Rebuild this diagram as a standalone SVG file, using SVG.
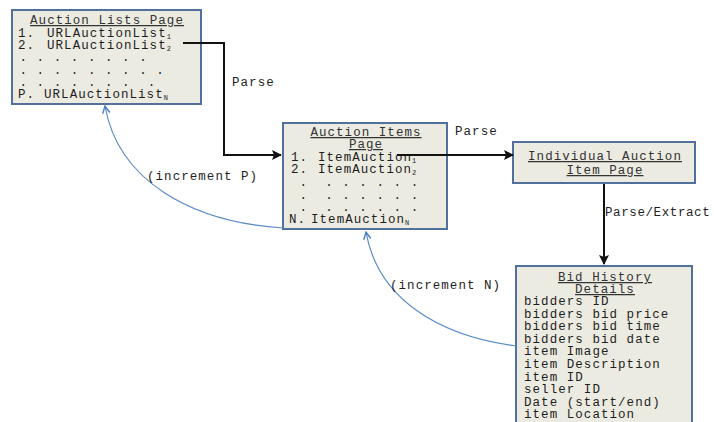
<svg xmlns="http://www.w3.org/2000/svg" width="714" height="422" viewBox="0 0 714 422">
<defs>
<marker id="ah" viewBox="0 0 10 10" refX="9" refY="5" markerWidth="5" markerHeight="5" orient="auto" markerUnits="strokeWidth"><path d="M0,0 L10,5 L0,10 L2,5 z" fill="#111"/></marker>
<marker id="ab" viewBox="0 0 10 10" refX="9" refY="5" markerWidth="9" markerHeight="9" orient="auto" markerUnits="userSpaceOnUse"><path d="M1,1 L9,5 L1,9" fill="none" stroke="#4f83c2" stroke-width="1.6"/></marker>
<style>
.box{fill:#ecebe2;stroke:#51719c;stroke-width:2}
.t{font-family:"Liberation Mono","Courier New",monospace;font-size:12.5px;letter-spacing:1.05px;fill:#1e1e1e}
.ttl{text-decoration:underline;fill:#333}
.sub{font-size:7px;letter-spacing:0}
.blk{fill:none;stroke:#111;stroke-width:2}
.blu{fill:none;stroke:#5b8cc6;stroke-width:1.2}
</style>
</defs>
<rect width="714" height="422" fill="#ffffff"/>

<g id="auction-lists-page">
<rect class="box" x="12" y="10" width="189" height="94"/>
<text class="t ttl" x="107" y="24" text-anchor="middle">Auction Lists Page</text>
<text class="t" x="18" y="37">1.<tspan x="47">URLAuctionList</tspan><tspan class="sub" dy="2">1</tspan></text>
<text class="t" x="18" y="49">2.<tspan x="47">URLAuctionList</tspan><tspan class="sub" dy="2">2</tspan></text>
<text class="t" x="19.5" y="61" xml:space="preserve">. . . . . . . .</text>
<text class="t" x="19.5" y="74" xml:space="preserve">. . . . . . . . .</text>
<text class="t" x="19.5" y="86" xml:space="preserve">. . . . . . .  .</text>
<text class="t" x="18" y="98">P.<tspan x="44">URLAuctionList</tspan><tspan class="sub" dy="2">N</tspan></text>
</g>

<g id="auction-items-page">
<rect class="box" x="283" y="123" width="164" height="106"/>
<text class="t ttl" x="366" y="136" text-anchor="middle">Auction Items</text>
<text class="t ttl" x="366" y="148" text-anchor="middle">Page</text>
<text class="t" x="291" y="161">1.<tspan x="318">ItemAuction</tspan><tspan class="sub" dy="2">1</tspan></text>
<text class="t" x="291" y="173">2.<tspan x="318">ItemAuction</tspan><tspan class="sub" dy="2">2</tspan></text>
<text class="t" x="299.5" y="186" xml:space="preserve">.  . . . . . .</text>
<text class="t" x="299.5" y="199" xml:space="preserve">.  . . . . . .</text>
<text class="t" x="299.5" y="211" xml:space="preserve">.  . . . . . .</text>
<text class="t" x="289" y="223">N.<tspan x="311">ItemAuction</tspan><tspan class="sub" dy="2">N</tspan></text>
</g>

<g id="individual-auction-item-page">
<rect class="box" x="513" y="142" width="182" height="41"/>
<text class="t ttl" x="605" y="160" text-anchor="middle">Individual Auction</text>
<text class="t ttl" x="605" y="174" text-anchor="middle">Item Page</text>
</g>

<g id="bid-history-details">
<rect class="box" x="516" y="266" width="176" height="170"/>
<text class="t ttl" x="605" y="281" text-anchor="middle">Bid History</text>
<text class="t ttl" x="605" y="293" text-anchor="middle">Details</text>
<text class="t" x="524" y="305">bidders ID</text>
<text class="t" x="524" y="317.6">bidders bid price</text>
<text class="t" x="524" y="330.2">bidders bid time</text>
<text class="t" x="524" y="342.8">bidders bid date</text>
<text class="t" x="524" y="355.4">item Image</text>
<text class="t" x="524" y="368">item Description</text>
<text class="t" x="524" y="380.6">item ID</text>
<text class="t" x="524" y="393.2">seller ID</text>
<text class="t" x="524" y="405.8">Date (start/end)</text>
<text class="t" x="524" y="418.4">item Location</text>
</g>

<g id="connectors">
<path class="blk" d="M183,43 H224 V155 H281" marker-end="url(#ah)"/>
<path class="blk" d="M397,155 H513" marker-end="url(#ah)"/>
<path class="blk" d="M604,184 V264" marker-end="url(#ah)"/>
<path class="blu" d="M283,228 C190,222 118,180 105,106" marker-end="url(#ab)"/>
<path class="blu" d="M516,346 C440,336 378,300 366,232" marker-end="url(#ab)"/>
<text class="t" x="232" y="86">Parse</text>
<text class="t" x="455" y="135">Parse</text>
<text class="t" x="605" y="216" style="letter-spacing:0.6px">Parse/Extract</text>
<text class="t" x="147" y="180">(increment P)</text>
<text class="t" x="390" y="289">(increment N)</text>
</g>
</svg>
